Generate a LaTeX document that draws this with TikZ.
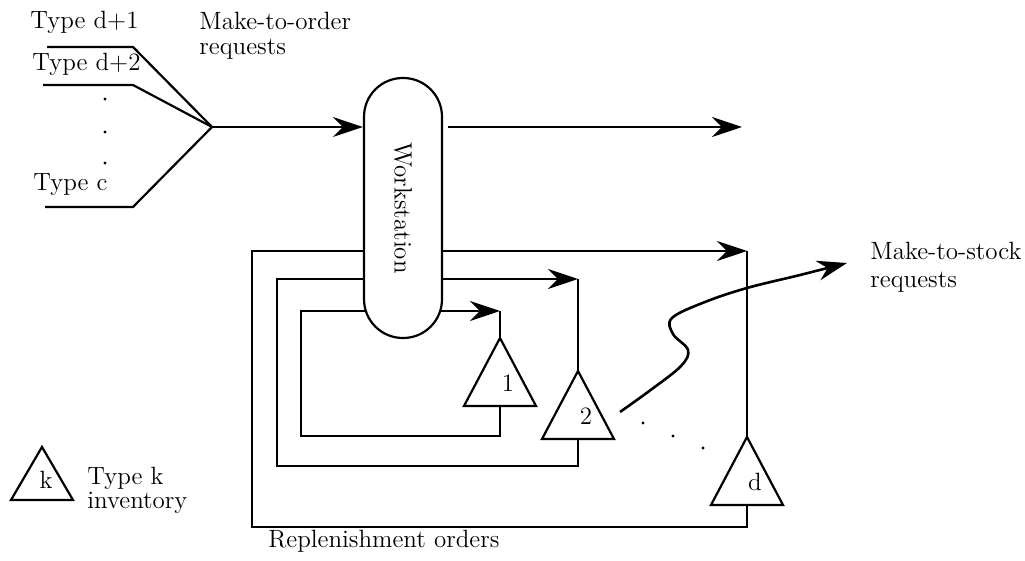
\documentclass[tikz,border=0pt]{standalone}
\usepackage{tikz}
\usetikzlibrary{arrows.meta}

\tikzset{
  flow/.style={line width=1.1pt},
  arr/.style={flow, -{Stealth[length=15pt,width=10pt,inset=5pt]}},
  lbl/.style={font=\fontsize{12.5}{15}\selectfont, inner sep=0pt},
  station/.style={draw, line width=1.1pt, fill=white, rounded corners=19.4pt,
    minimum width=39pt, minimum height=130pt, inner sep=0pt},
}

\begin{document}
\begin{tikzpicture}[x=0.5pt, y=-0.5pt, line join=miter]

	% --- Parameter (Pixelmass des Bildes) ---
	\pgfmathsetmacro{\hT}{68}   % Hoehe Lagerdreieck
	\pgfmathsetmacro{\bT}{36}   % halbe Basis Lagerdreieck
	\useasboundingbox (0,0) rectangle (1025,561);

	% --- Make-to-order Eingaenge ---
	\coordinate (fan) at (212,127);
	\node[lbl, anchor=base west] (typeA) at (30,29) {Type d+1};
	\node[lbl, anchor=base west] (typeB) at (32,71) {Type d+2};
	\node[lbl, anchor=base west] (typeC) at (33,191) {Type c};
	\foreach \n/\xs/\ys in {a/47/47, b/43/85, c/45/207} {
		\coordinate (in\n) at (\xs,\ys);
		\draw[flow] (in\n) -- (133,\ys) -- (fan);
	}
	\foreach \y in {99,132,163} \fill (105,\y) circle (0.8pt);
	\node[lbl, anchor=base west] (mtoA) at (199,30) {Make-to-order};
	\node[lbl, anchor=base west] (mtoB) at (199,55) {requests};

	% --- Lager 1, 2, d ---
	\foreach \k/\xk/\ya in {1/500/338, 2/578/371, d/747/437} {
		\coordinate (top\k) at (\xk,\ya);
		\coordinate (bot\k) at (\xk,\ya+\hT);
		\draw[flow] (top\k) -- ++(\bT,\hT) -- ++(-2*\bT,0) -- cycle;
		\node[lbl] (lab\k) at (\xk+8,\ya+45) {\k};
	}

	% --- Nachschubschleifen (hinter der Station) ---
	\foreach \k/\xl/\yt/\yb in {1/301/311/436, 2/277/279/466, d/252/251/527} {
		\coordinate (tip\k) at (top\k |- 0,\yt);
		\draw[arr] (bot\k) |- (\xl,\yb) |- (tip\k);
		\draw[flow] (tip\k) -- (top\k);
	}
	\node[lbl, anchor=base west] (repl) at (268,548) {Replenishment orders};

	% --- Workstation ---
	\node[station] (ws) at (403,208) {};
	\node[lbl, rotate=-90] (wslab) at (ws.center) {Workstation};
	\coordinate (mtoOut) at (742,127);
	\draw[arr] (fan) -- (fan -| ws.west);
	\draw[arr] ([xshift=2.5pt]ws.east |- fan) -- (mtoOut);

	% --- Make-to-stock Nachfrage ---
	\coordinate (mtsStart) at (620,412);
	\coordinate (mtsEnd) at (847,263);
	\draw[arr, line width=1.3pt] plot[smooth, tension=0.6] coordinates
		{(mtsStart) (652,389) (681,366) (688,350) (673,334) (672,318)
		 (705,302) (747,288) (800,275) (mtsEnd)};
	\foreach \x/\y in {643/423, 673/436, 703/448} \fill (\x,\y) circle (0.8pt);
	\node[lbl, anchor=base west] (mtsA) at (870,260) {Make-to-stock};
	\node[lbl, anchor=base west] (mtsB) at (870,288) {requests};

	% --- Legende ---
	\draw[flow] (42,447) -- (73,500) -- (11,500) -- cycle;
	\node[lbl] (legk) at (46,480) {k};
	\node[lbl, anchor=base west] (legA) at (87,485) {Type k};
	\node[lbl, anchor=base west] (legB) at (87,509) {inventory};

\end{tikzpicture}
\end{document}
